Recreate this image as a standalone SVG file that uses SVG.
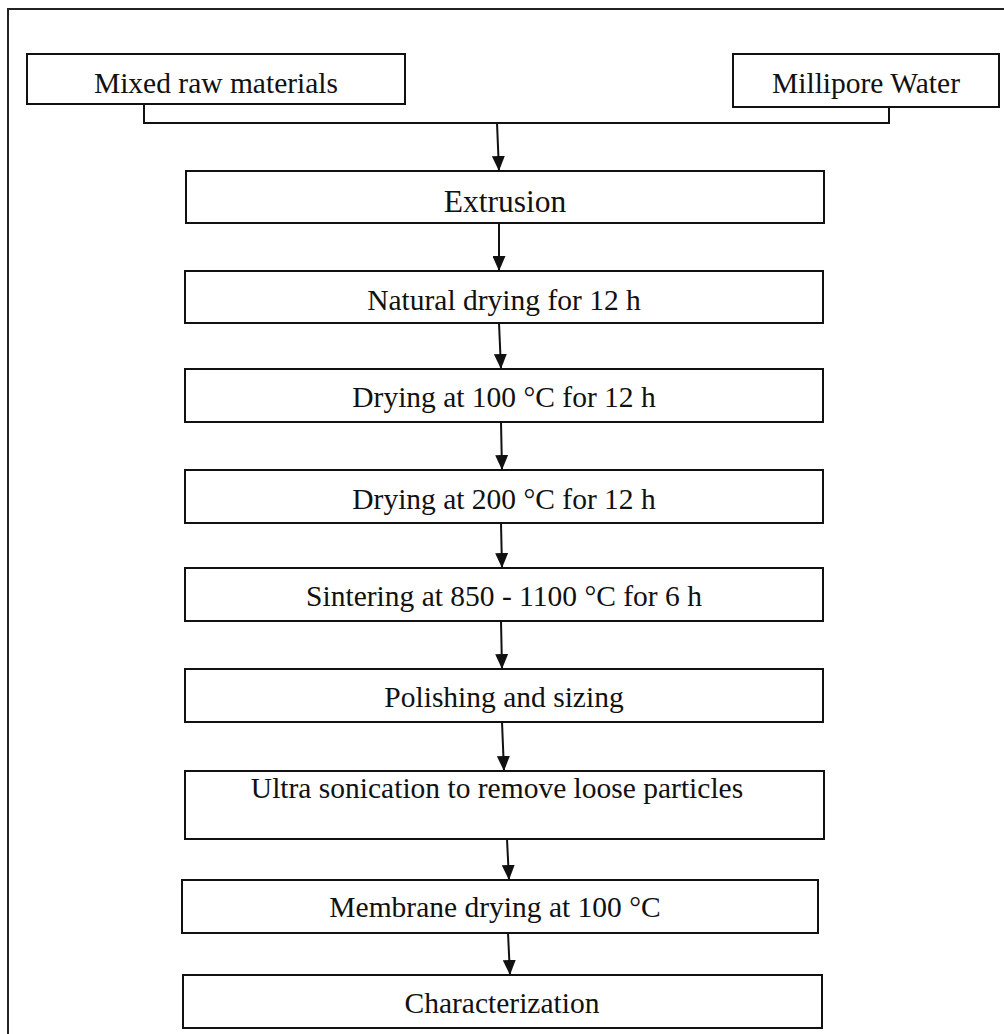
<svg xmlns="http://www.w3.org/2000/svg" width="1004" height="1034" viewBox="0 0 1004 1034">
<style>
.box{fill:#fff;stroke:#111;stroke-width:2}
.lbl{font-family:"Liberation Serif","Times New Roman",serif;font-size:29.5px;fill:#111;text-anchor:middle}
.big{font-size:31.5px}
.conn{fill:none;stroke:#111;stroke-width:2}
</style>
<defs>
<marker id="arr" viewBox="0 0 15 13" refX="15" refY="6.5" markerWidth="15" markerHeight="13" markerUnits="userSpaceOnUse" orient="auto">
<path d="M0,0 L15,6.5 L0,13 z" fill="#111"/>
</marker>
</defs>
<rect width="1004" height="1034" fill="#fff"/>
<path d="M8,1034 V9 H1004" fill="none" stroke="#222" stroke-width="2"/>

<g id="mixed"><rect class="box" x="27" y="54" width="378" height="50"/><text class="lbl" x="216" y="93">Mixed raw materials</text></g>
<g id="water"><rect class="box" x="733" y="54" width="266" height="53"/><text class="lbl" x="866" y="93">Millipore Water</text></g>
<g id="extrusion"><rect class="box" x="186" y="171" width="638" height="52"/><text class="lbl big" x="505" y="212">Extrusion</text></g>
<g id="natural"><rect class="box" x="185" y="271" width="638" height="52"/><text class="lbl" x="504" y="310">Natural drying for 12 h</text></g>
<g id="dry100"><rect class="box" x="185" y="369" width="638" height="53"/><text class="lbl" x="504" y="407">Drying at 100 °C for 12 h</text></g>
<g id="dry200"><rect class="box" x="185" y="470" width="638" height="53"/><text class="lbl" x="504" y="509">Drying at 200 °C for 12 h</text></g>
<g id="sinter"><rect class="box" x="185" y="568" width="638" height="53"/><text class="lbl" x="504" y="606">Sintering at 850 - 1100 °C for 6 h</text></g>
<g id="polish"><rect class="box" x="185" y="669" width="638" height="53"/><text class="lbl" x="504" y="707">Polishing and sizing</text></g>
<g id="ultra"><rect class="box" x="185" y="771" width="639" height="68"/><text class="lbl" x="497" y="798">Ultra sonication to remove loose particles</text></g>
<g id="membrane"><rect class="box" x="182" y="880" width="636" height="53"/><text class="lbl" x="495" y="917">Membrane drying at 100 °C</text></g>
<g id="charac"><rect class="box" x="183" y="975" width="639" height="53"/><text class="lbl" x="502" y="1013">Characterization</text></g>

<g id="connectors">
<path class="conn" d="M144,104 V123 H889 V107"/>
<line class="conn" x1="497" y1="123" x2="499" y2="171" marker-end="url(#arr)"/>
<line class="conn" x1="499" y1="223" x2="499" y2="271" marker-end="url(#arr)"/>
<line class="conn" x1="499" y1="323" x2="501" y2="369" marker-end="url(#arr)"/>
<line class="conn" x1="501" y1="422" x2="502" y2="470" marker-end="url(#arr)"/>
<line class="conn" x1="501" y1="523" x2="502" y2="568" marker-end="url(#arr)"/>
<line class="conn" x1="501" y1="621" x2="502" y2="669" marker-end="url(#arr)"/>
<line class="conn" x1="502" y1="722" x2="504" y2="771" marker-end="url(#arr)"/>
<line class="conn" x1="507" y1="839" x2="509" y2="880" marker-end="url(#arr)"/>
<line class="conn" x1="508" y1="933" x2="510" y2="975" marker-end="url(#arr)"/>
</g>
</svg>
